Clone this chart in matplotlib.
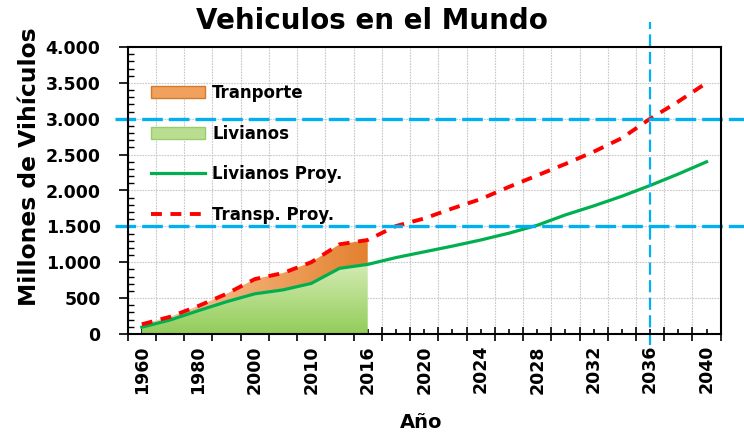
"""
Vehiculos en el Mundo: historical stacked areas + projections.
"""

import matplotlib
matplotlib.use('Agg')
import matplotlib.pyplot as plt
import numpy as np
from matplotlib.colors import LinearSegmentedColormap
from matplotlib.patches import Patch
from matplotlib.lines import Line2D
from matplotlib.ticker import FuncFormatter, MultipleLocator

# Data (millones de vehiculos)
years = ['1960', '1970', '1980', '1990', '2000', '2005', '2010', '2013', '2016',
         '2018', '2020', '2022', '2024', '2026', '2028', '2030', '2032', '2034',
         '2036', '2038', '2040']
livianos = [95, 195, 325, 450, 560, 615, 705, 915, 970]
transporte = [40, 45, 65, 110, 205, 235, 295, 335, 340]
livianos_proy = [95, 195, 325, 450, 560, 615, 705, 915, 970, 1065, 1145, 1225,
                 1310, 1405, 1515, 1660, 1785, 1920, 2070, 2230, 2400]
transp_proy = [135, 240, 390, 560, 765, 850, 1000, 1250, 1310, 1505, 1610, 1750,
               1880, 2050, 2210, 2370, 2540, 2730, 3000, 3240, 3500]
ref_levels = [1500, 3000]
ref_year = '2036'

BLUE = '#00b0f0'


def gradient_area(ax, x, y0, y1, colors, horizontal=False):
    """Fill between y0 and y1 with a linear gradient."""
    poly = ax.fill_between(x, y0, y1, facecolor='none', edgecolor='none')
    path = poly.get_paths()[0]
    cmap = LinearSegmentedColormap.from_list('g', colors)
    grad = np.linspace(0, 1, 256)
    grad = grad.reshape(1, -1) if horizontal else grad.reshape(-1, 1)
    im = ax.imshow(grad, extent=[min(x), max(x), 0, max(y1)], origin='lower',
                   aspect='auto', cmap=cmap, zorder=1)
    im.set_clip_path(path, transform=ax.transData)
    return im


fig = plt.figure(figsize=(7.44, 4.36), dpi=100)
ax = fig.add_axes([127.7 / 744, 102 / 436, 593 / 744, 287 / 436])

x_hist = np.arange(len(livianos))
x_all = np.arange(len(years))
liv = np.array(livianos)
tot = liv + np.array(transporte)

gradient_area(ax, x_hist, np.zeros_like(liv), liv,
              ['#92cc5a', '#b3dc86', '#d3ebb3'])
gradient_area(ax, x_hist, liv, tot,
              ['#f3cba6', '#f0a86a', '#e3812f'], horizontal=True)

ax.plot(x_all, livianos_proy, color='#00b050', lw=2.3, zorder=3)
ax.plot(x_all, transp_proy, color='#ff0000', lw=2.8, dashes=(2.8, 2.2),
        dash_capstyle='butt', zorder=4)

# reference lines running past the plot area
for lvl in ref_levels:
    ax.axhline(lvl, xmin=-0.021, xmax=1.04, color=BLUE, lw=2.4,
               dashes=(6.2, 1.8), clip_on=False, zorder=5)
ax.axvline(years.index(ref_year), ymin=-0.04, ymax=1.087, color=BLUE, lw=1.6,
           dashes=(5.5, 2.4), clip_on=False, zorder=5)

# axes
ax.set_xlim(-0.5, len(years) - 0.5)
ax.set_ylim(0, 4000)
ax.set_xticks(np.arange(-0.5, len(years), 1))
ax.set_xticklabels([])
ax.set_xticks(x_all, minor=True)
ax.set_xticklabels([y if i % 2 == 0 else '' for i, y in enumerate(years)],
                   minor=True, rotation=90, fontsize=12.5, fontweight='bold')
ax.tick_params(axis='x', which='major', direction='inout', length=9.5, width=1.2)
ax.tick_params(axis='x', which='minor', direction='in', length=3.5, width=1.2, pad=8)

ax.yaxis.set_major_locator(MultipleLocator(500))
ax.yaxis.set_minor_locator(MultipleLocator(100))
ax.yaxis.set_major_formatter(FuncFormatter(lambda v, p: f'{int(v):,}'.replace(',', '.')))
ax.tick_params(axis='y', which='major', direction='out', length=6.5, width=1.2,
               pad=13, labelsize=12.5)
ax.tick_params(axis='y', which='minor', direction='in', length=4, width=1.0)
for lab in ax.get_yticklabels():
    lab.set_fontweight('bold')

ax.grid(which='major', color='#c8c8c8', lw=0.8, linestyle=(0, (1.5, 1)), zorder=0)
ax.set_axisbelow(True)
for side in ['left', 'bottom', 'top', 'right']:
    ax.spines[side].set_linewidth(1.5)
    ax.spines[side].set_color('black')
    ax.spines[side].set_zorder(6)

fig.text(0.5, 1 - 21 / 436, 'Vehiculos en el Mundo', ha='center', va='center',
         fontsize=20, fontweight='bold')
fig.text(30 / 744, 1 - 167 / 436, 'Millones de Vihículos', ha='center', va='center',
         rotation=90, fontsize=16.8, fontweight='bold')
fig.text(421 / 744, 1 - 422 / 436, 'Año', ha='center', va='center',
         fontsize=14, fontweight='bold')

handles = [
    Patch(facecolor='#f0a15e', edgecolor='#d5792c', lw=1),
    Patch(facecolor='#b9de90', edgecolor='#9ccb6c', lw=1),
    Line2D([], [], color='#00b050', lw=2.3),
    Line2D([], [], color='#ff0000', lw=2.8, dashes=(2.8, 2.2), dash_capstyle='butt'),
]
labels = ['Tranporte', 'Livianos', 'Livianos Proy.', 'Transp. Proy.']
leg = ax.legend(handles, labels, loc='upper left', bbox_to_anchor=(0.04, 0.871),
                frameon=False, borderpad=0, borderaxespad=0, handlelength=3.2,
                handleheight=0.75, handletextpad=0.45, labelspacing=1.35,
                prop={'size': 12, 'weight': 'bold'})
leg.set_zorder(7)

fig.savefig('out.png', dpi=100)
